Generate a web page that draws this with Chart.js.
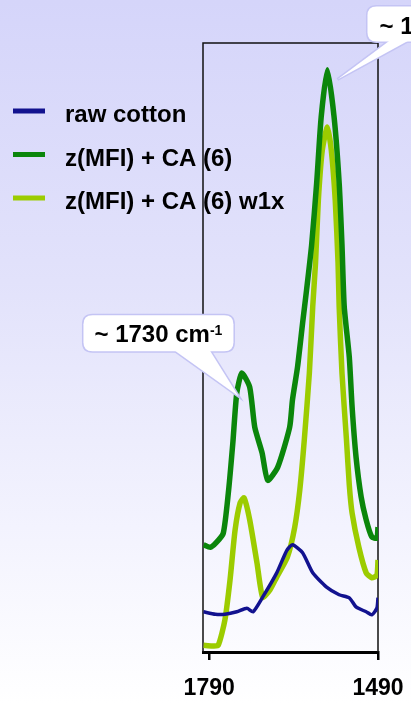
<!DOCTYPE html>
<html>
<head>
<meta charset="utf-8">
<script src="https://cdn.jsdelivr.net/npm/chart.js@4.4.1/dist/chart.umd.min.js"></script>
<style>
  html, body { margin: 0; padding: 0; overflow: hidden; }
  body {
    width: 411px; height: 704px;
    background: linear-gradient(180deg, #d5d5fa 0%, #e2e2fb 40%, #f3f3fe 75%, #ffffff 100%);
  }
  #wrap { width: 411px; height: 704px; }
</style>
</head>
<body>
<div id="wrap"><canvas id="chart1" width="411" height="704"></canvas></div>
<script>
  // series names shown in the legend
  const seriesNames = ['raw cotton', 'z(MFI) + CA (6)', 'z(MFI) + CA (6) w1x'];

  // wavenumbers (cm-1) and absorbance
  const rawWave = [1800, 1779, 1762, 1741, 1723, 1712, 1695, 1670, 1652, 1642, 1624, 1606, 1582, 1559, 1541, 1529, 1511, 1501, 1492, 1490];
  const rawAbs  = [0.066, 0.062, 0.062, 0.066, 0.072, 0.066, 0.090, 0.130, 0.167, 0.176, 0.163, 0.130, 0.107, 0.094, 0.089, 0.074, 0.066, 0.061, 0.072, 0.089];

  const caWave = [1800, 1788, 1778, 1765, 1756, 1748, 1741, 1732, 1718, 1709, 1696, 1686, 1668, 1647, 1642, 1633, 1624, 1617, 1608, 1599, 1591, 1580, 1568, 1559, 1554, 1550, 1541, 1536, 1529, 1520, 1511, 1501, 1492, 1490];
  const caAbs  = [0.176, 0.172, 0.179, 0.195, 0.261, 0.343, 0.425, 0.458, 0.435, 0.369, 0.327, 0.282, 0.304, 0.369, 0.414, 0.468, 0.540, 0.594, 0.668, 0.770, 0.878, 0.956, 0.878, 0.770, 0.668, 0.567, 0.484, 0.402, 0.320, 0.255, 0.217, 0.189, 0.187, 0.205];

  const washWave = [1800, 1785, 1774, 1762, 1753, 1744, 1735, 1728, 1718, 1705, 1695, 1682, 1670, 1651, 1638, 1629, 1621, 1612, 1606, 1601, 1596, 1589, 1580, 1573, 1566, 1561, 1559, 1554, 1546, 1541, 1536, 1524, 1511, 1501, 1492, 1490];
  const washAbs  = [0.011, 0.010, 0.011, 0.053, 0.118, 0.200, 0.245, 0.253, 0.217, 0.146, 0.090, 0.102, 0.123, 0.156, 0.205, 0.266, 0.348, 0.458, 0.567, 0.639, 0.742, 0.824, 0.862, 0.824, 0.742, 0.639, 0.567, 0.458, 0.348, 0.274, 0.228, 0.172, 0.130, 0.122, 0.126, 0.151];

  // axis ticks
  const tickValues = [1790, 1490];

  // callouts: text, anchor wavenumber, anchor absorbance
  const calloutText = ['~ 1730 cm', '~ 1580 cm'];
  const calloutWave = [1738, 1562];
  const calloutAbs = [0.42, 0.94];

  const colors = ['#12128f', '#0b860b', '#9ccc00'];
  const widths = [3.5, 5.5, 5.5];
  const FONT = '"Liberation Sans", Arial, sans-serif';

  function toPoints(w, a) {
    return w.map((x, i) => ({ x: x, y: a[i] }));
  }

  const frameBox = {
    id: 'frameBox',
    beforeDatasetsDraw(chart) {
      const { ctx, chartArea: a } = chart;
      ctx.save();
      ctx.strokeStyle = '#111';
      ctx.lineWidth = 1.5;
      ctx.beginPath();
      ctx.moveTo(a.left, a.bottom);
      ctx.lineTo(a.left, a.top);
      ctx.lineTo(a.right, a.top);
      ctx.lineTo(a.right, a.bottom);
      ctx.stroke();
      ctx.restore();
    }
  };

  // boxes placed relative to the tip: [dx, dy, w, h, baseFrom, baseTo, textX]
  const calloutBoxes = [
    [-155, -81, 150, 36, -67, -30, 11],
    [30, -73, 140, 35, 55, 75, 12]
  ];

  function roundRect(ctx, x, y, w, h, r) {
    ctx.beginPath();
    ctx.moveTo(x + r, y);
    ctx.lineTo(x + w - r, y);
    ctx.quadraticCurveTo(x + w, y, x + w, y + r);
    ctx.lineTo(x + w, y + h - r);
    ctx.quadraticCurveTo(x + w, y + h, x + w - r, y + h);
    ctx.lineTo(x + r, y + h);
    ctx.quadraticCurveTo(x, y + h, x, y + h - r);
    ctx.lineTo(x, y + r);
    ctx.quadraticCurveTo(x, y, x + r, y);
    ctx.closePath();
  }

  const callouts = {
    id: 'callouts',
    afterDatasetsDraw(chart) {
      const ctx = chart.ctx;
      const xs = chart.scales.x, ys = chart.scales.y;
      calloutText.forEach((txt, i) => {
        const tx = xs.getPixelForValue(calloutWave[i]);
        const ty = ys.getPixelForValue(calloutAbs[i]);
        const [dx, dy, w, h, b0, b1, tpad] = calloutBoxes[i];
        const bx = tx + dx, by = ty + dy;
        ctx.save();
        ctx.strokeStyle = '#c4c4f4';
        ctx.lineWidth = 3;
        ctx.fillStyle = '#ffffff';
        roundRect(ctx, bx, by, w, h, 9);
        ctx.stroke();
        ctx.beginPath();
        ctx.moveTo(tx + b0, by + h - 3);
        ctx.lineTo(tx, ty);
        ctx.lineTo(tx + b1, by + h - 3);
        ctx.stroke();
        ctx.fill();
        roundRect(ctx, bx, by, w, h, 9);
        ctx.fill();

        ctx.fillStyle = '#000';
        ctx.font = 'bold 24px ' + FONT;
        ctx.textBaseline = 'alphabetic';
        ctx.textAlign = 'left';
        const px = bx + tpad, py = by + 27;
        ctx.fillText(txt, px, py);
        const tw = ctx.measureText(txt).width;
        ctx.font = 'bold 14px ' + FONT;
        ctx.fillText('-1', px + tw, py - 7);
        ctx.restore();
      });
    }
  };

  const sideLegend = {
    id: 'sideLegend',
    afterDraw(chart) {
      const ctx = chart.ctx;
      ctx.save();
      chart.data.datasets.forEach((ds, i) => {
        const y = 111 + i * 43.5;
        ctx.strokeStyle = ds.borderColor;
        ctx.lineWidth = 5;
        ctx.beginPath();
        ctx.moveTo(13, y);
        ctx.lineTo(45, y);
        ctx.stroke();
        ctx.fillStyle = '#000';
        ctx.font = 'bold 24px ' + FONT;
        ctx.textBaseline = 'alphabetic';
        ctx.fillText(ds.label, 65, y + 11);
      });
      ctx.restore();
    }
  };

  const chart1 = document.getElementById('chart1');
  new Chart(chart1, {
    type: 'line',
    data: {
      datasets: [
        { label: seriesNames[0], data: toPoints(rawWave, rawAbs) },
        { label: seriesNames[1], data: toPoints(caWave, caAbs) },
        { label: seriesNames[2], data: toPoints(washWave, washAbs) }
      ].map((d, i) => Object.assign(d, {
        borderColor: colors[i],
        backgroundColor: colors[i],
        borderWidth: widths[i],
        pointRadius: 0,
        tension: 0.2,
        fill: false
      }))
    },
    options: {
      responsive: false,
      animation: false,
      layout: { padding: { left: 203, right: 33, top: 43, bottom: 0 } },
      plugins: { legend: { display: false }, tooltip: { enabled: false } },
      scales: {
        x: {
          type: 'linear',
          reverse: true,
          min: 1490,
          max: 1801,
          afterBuildTicks: (scale) => { scale.ticks = tickValues.map(v => ({ value: v })); },
          afterFit: (scale) => {
            scale.height = 52;
            scale.paddingLeft = 0;
            scale.paddingRight = 0;
          },
          border: { display: true, color: '#000', width: 3 },
          grid: { drawOnChartArea: false, color: '#000', lineWidth: 2.5, tickLength: 8 },
          ticks: {
            autoSkip: false,
            maxRotation: 0,
            padding: 15,
            color: '#000',
            font: { family: FONT, size: 23, weight: 'bold' },
            callback: (v) => String(v)
          }
        },
        y: { display: false, min: 0, max: 1 }
      }
    },
    plugins: [frameBox, callouts, sideLegend]
  });
</script>
</body>
</html>
